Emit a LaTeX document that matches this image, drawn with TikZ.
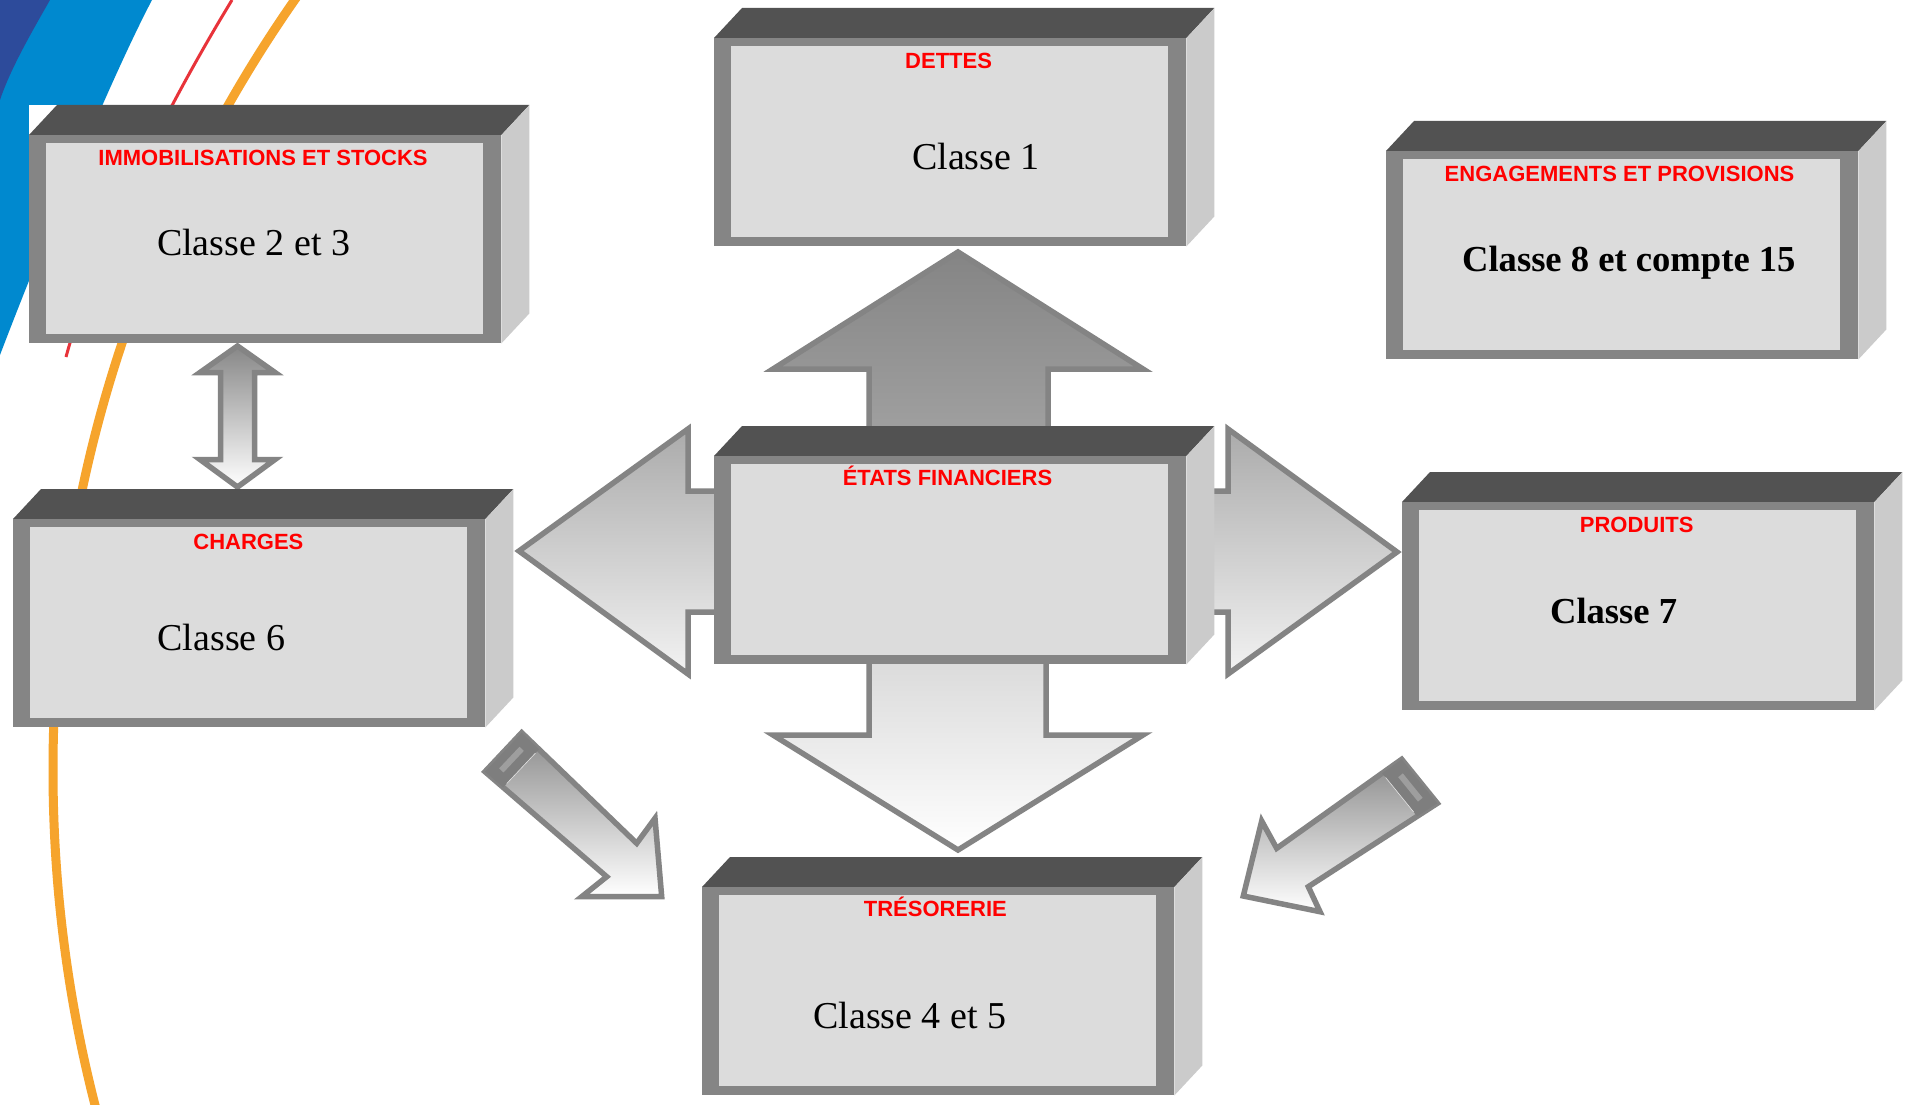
\documentclass[tikz,border=0pt]{standalone}
\usepackage{fontspec}
\usepackage{graphicx}
\usetikzlibrary{calc}
\setmainfont{Liberation Serif}
\newfontfamily\labfont{Liberation Sans}
\definecolor{topc}{HTML}{525252}
\definecolor{framec}{HTML}{858585}
\definecolor{innerc}{HTML}{DCDCDC}
\definecolor{sidec}{HTML}{CBCBCB}
\definecolor{darkblue}{HTML}{2D4B9B}
\definecolor{lightblue}{HTML}{0089CF}
\definecolor{decred}{HTML}{E8333A}
\definecolor{decorange}{HTML}{F6A42C}
\definecolor{labred}{HTML}{FF0000}
\definecolor{arrowgray}{HTML}{848484}
\definecolor{capgray}{HTML}{7E7E7E}
\tikzset{
  boxnode/.style={minimum width=472pt, minimum height=208pt, inner sep=0pt, anchor=north west},
  lab/.style={font=\labfont\bfseries\fontsize{22}{24}\selectfont, text=labred, inner sep=0pt, anchor=base},
  cls/.style={font=\fontsize{38}{40}\selectfont, text=black, inner sep=0pt, anchor=base},
  clsb/.style={font=\bfseries\fontsize{36.6}{40}\selectfont, text=black, inner sep=0pt, anchor=base},
  blockarrow/.style={draw=arrowgray, line width=5.5pt, line join=miter},
}
\newcommand\cubebox[3]{%
 \node[boxnode] (#1) at (#2,#3) {};
 \fill[white] ($(#1.north west)+(0,-30)$) rectangle ($(#1.south east)+(28,0)$);
 \fill[topc] (#1.north west) -- ++(28,-30) -- ($(#1.north east)+(28,-30)$) -- (#1.north east) -- cycle;
 \fill[sidec] (#1.north east) -- ++(28,-30) -- ($(#1.south east)+(28,-30)$) -- (#1.south east) -- cycle;
 \fill[framec] (#1.north west) rectangle (#1.south east);
 \fill[innerc] ($(#1.north west)+(17,8)$) rectangle ($(#1.south east)+(-18,-9.5)$);
}
\begin{document}
\begin{tikzpicture}[x=1pt,y=-1pt]
\path[use as bounding box] (0,0) rectangle (1909,1105);
\fill[white] (0,0) rectangle (1909,1105);
% background decoration
\begin{scope}
\clip (0,0) rectangle (1909,1105);
\fill[lightblue] (0,0) -- (152,0) .. controls (110,80) and (40,250) .. (0,355) -- cycle;
\fill[darkblue] (0,0) -- (50,0) .. controls (30,35) and (10,70) .. (0,100) -- cycle;
\draw[decred, line width=3pt] (232,0) .. controls (165,110) and (95,250) .. (66,357);
\draw[decorange, line width=9pt] (1400,770) circle[radius=1347];
\end{scope}
% block arrows
\shadedraw[blockarrow, top color=black!48, bottom color=black!37]
  (958,252) -- (1143,369) -- (1048,369) -- (1048,440) -- (869,440) -- (869,369) -- (773,369) -- cycle;
\shadedraw[blockarrow, top color=black!33, bottom color=black!5]
  (519,551) -- (688,429) -- (688,491) -- (730,491) -- (730,612) -- (688,612) -- (688,674) -- cycle;
\shadedraw[blockarrow, top color=black!33, bottom color=black!5]
  (1397,552) -- (1228,429) -- (1228,491) -- (1195,491) -- (1195,612) -- (1228,612) -- (1228,674) -- cycle;
\shadedraw[blockarrow, top color=black!15, bottom color=white]
  (958,850) -- (1143,735) -- (1046,735) -- (1046,650) -- (869,650) -- (869,735) -- (773,735) -- cycle;
\shadedraw[blockarrow, top color=black!47, bottom color=white]
  (237.5,346) -- (275,372.5) -- (254.5,372.5) -- (254.5,459.5) -- (275,459.5) -- (237.5,487)
  -- (200,459.5) -- (220.5,459.5) -- (220.5,372.5) -- (200,372.5) -- cycle;
% diagonal arrows
\coordinate (lb1) at (521.7,732.7);
\coordinate (lb2) at (485,771.7);
\coordinate (ln1) at (636.7,843.3);
\coordinate (ln2) at (606.7,876.7);
\shadedraw[blockarrow, top color=black!45, bottom color=white]
  (lb1) -- (ln1) -- (655,818.3) -- (661.7,896.7) -- (581.7,896.7) -- (ln2) -- (lb2) -- cycle;
\coordinate (lc1) at ($(lb1)!24pt!(ln1)$);
\coordinate (lc2) at ($(lb2)!24pt!(ln2)$);
\fill[capgray] (lb1) -- (lc1) -- (lc2) -- (lb2) -- cycle;
\draw[black!10, line width=0.6pt] ($(lc1)!0.1!(lc2)$) -- ($(lc1)!0.9!(lc2)$);
\coordinate (lm1) at ($(lb1)!11pt!(ln1)$);
\coordinate (lm2) at ($(lb2)!11pt!(ln2)$);
\draw[black!38, line width=6pt] ($(lm1)!0.22!(lm2)$) -- ($(lm1)!0.78!(lm2)$);
\coordinate (rb1) at (1401.7,759.3);
\coordinate (rb2) at (1437.3,803.3);
\coordinate (rn1) at (1276.7,848.3);
\coordinate (rn2) at (1308.3,886.7);
\shadedraw[blockarrow, top color=black!45, bottom color=white]
  (rb1) -- (rn1) -- (1261.7,821) -- (1243.3,896) -- (1320,911.7) -- (rn2) -- (rb2) -- cycle;
\coordinate (rc1) at ($(rb1)!24pt!(rn1)$);
\coordinate (rc2) at ($(rb2)!24pt!(rn2)$);
\fill[capgray] (rb1) -- (rc1) -- (rc2) -- (rb2) -- cycle;
\draw[black!10, line width=0.6pt] ($(rc1)!0.1!(rc2)$) -- ($(rc1)!0.9!(rc2)$);
\coordinate (rm1) at ($(rb1)!11pt!(rn1)$);
\coordinate (rm2) at ($(rb2)!11pt!(rn2)$);
\draw[black!38, line width=6pt] ($(rm1)!0.22!(rm2)$) -- ($(rm1)!0.78!(rm2)$);
% boxes
\cubebox{imm}{29}{135}
\cubebox{det}{714}{38}
\cubebox{ef}{714}{456}
\cubebox{cha}{13}{519}
\cubebox{tre}{702}{887}
\cubebox{eng}{1386}{151}
\cubebox{pro}{1402}{502}
% texts
\node[lab] (imm-t) at (263,165) {IMMOBILISATIONS ET STOCKS};
\node[cls] (imm-c) at (253.6,255) {Classe 2 et 3};
\node[lab] (det-t) at (948.6,68.7) {DETTES};
\node[cls] (det-c) at (976,170) {Classe 1};
\node[lab] (ef-t) at (947.5,485) {ÉTATS FINANCIERS};
\node[lab] (cha-t) at (248.4,549) {CHARGES};
\node[cls] (cha-c) at (221.5,650) {Classe 6};
\node[lab] (tre-t) at (935.4,916) {TRÉSORERIE};
\node[cls] (tre-c) at (909.8,1028) {Classe 4 et 5};
\node[lab] (eng-t) at (1619.5,181) {ENGAGEMENTS ET PROVISIONS};
\node[clsb] (eng-c) at (1628.8,271.3) {Classe 8 et compte 15};
\node[lab] (pro-t) at (1636.7,532.4) {PRODUITS};
\node[clsb] (pro-c) at (1613.6,623) {Classe 7};
\end{tikzpicture}
\end{document}
